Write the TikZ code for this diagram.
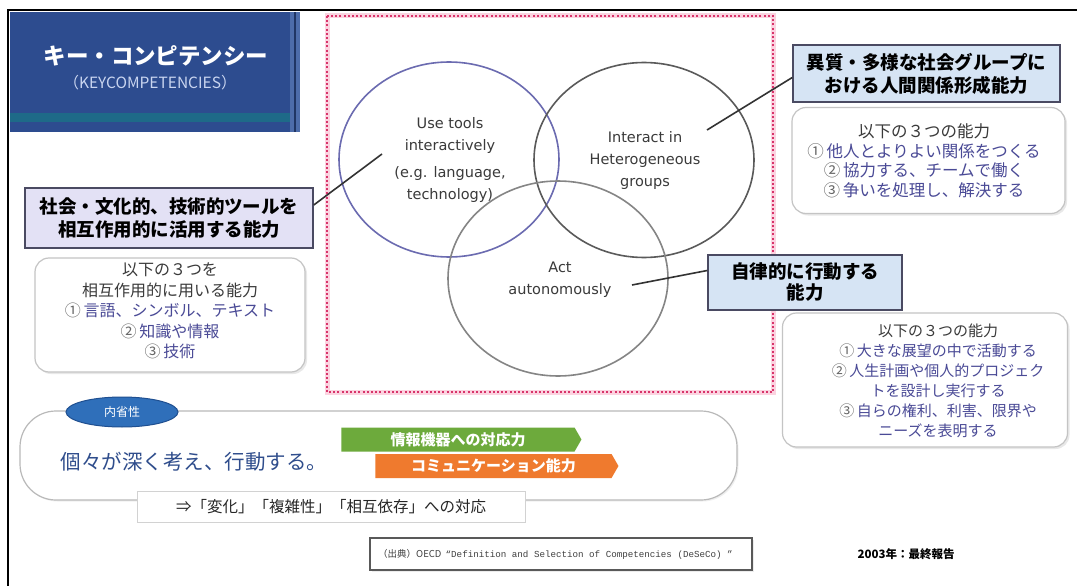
\documentclass[tikz,border=0pt]{standalone}
\usepackage{fontspec}
\setmainfont{Noto Sans CJK JP}
\newfontfamily\latinfont{DejaVu Sans}
\newfontfamily\monofont{Liberation Mono}
\usetikzlibrary{shapes.geometric,shapes.symbols,shadows}
\definecolor{titleblue}{HTML}{2D4C8F}
\definecolor{titleteal}{HTML}{1E6A88}
\definecolor{titleedge}{HTML}{4D6CAA}
\definecolor{titletxt}{HTML}{C9D5F0}
\definecolor{pinkdot}{HTML}{D8336A}
\definecolor{pinkglow}{HTML}{FBD3E0}
\definecolor{circA}{HTML}{6B6BB0}
\definecolor{circB}{HTML}{5A5A5A}
\definecolor{circC}{HTML}{858585}
\definecolor{circtxt}{HTML}{3A3A3A}
\definecolor{lblLfill}{HTML}{E3E1F5}
\definecolor{lblRfill}{HTML}{D6E4F4}
\definecolor{lbldraw}{HTML}{4A4A62}
\definecolor{infodraw}{HTML}{C4C4C4}
\definecolor{infotitle}{HTML}{3A3A3A}
\definecolor{itemc}{HTML}{4A4A96}
\definecolor{numc}{HTML}{666666}
\definecolor{bottxt}{HTML}{2F4D8C}
\definecolor{arrgreen}{HTML}{6DAA3C}
\definecolor{arrorange}{HTML}{EF7A2E}
\definecolor{ovalfill}{HTML}{2F6FBA}
\definecolor{ovaldraw}{HTML}{1F4F90}
\newcommand{\itm}[2]{{\color{numc}#1}\,{\color{itemc}#2}}
\begin{document}
\begin{tikzpicture}[x=1pt,y=-1pt,
  circ/.style={ellipse, minimum width=220pt, minimum height=195pt, line width=1.6pt},
  ctext/.style={font=\latinfont\fontsize{14.5}{22}\selectfont, text=circtxt, align=center, inner sep=0pt},
  lblbox/.style={draw=lbldraw, line width=1.5pt, inner sep=0pt, align=center,
     font=\fontsize{18.5}{23}\selectfont\bfseries, text=black},
  infobox/.style={draw=infodraw, line width=1.2pt, fill=white, rounded corners=14pt,
     drop shadow={opacity=0.18, shadow xshift=2pt, shadow yshift=-2pt}},
  infotext/.style={align=center, inner sep=0pt, text=infotitle},
  conn/.style={line width=1.6pt, draw=black!80},
  sig/.style={signal, signal to=east, signal pointer angle=120, inner sep=0pt,
     minimum height=24pt, text=white, font=\fontsize{15}{18}\selectfont\bfseries}
]
\useasboundingbox (0,0) rectangle (1077,586);
\fill[white] (0,0) rectangle (1077,586);

% title block
\fill[titleblue] (10,12) rectangle (290,132);
\fill[titleteal] (10,113) rectangle (290,122);
\fill[titleedge] (290,12) rectangle (300,132);
\draw[titleblue!70!black, line width=1.2pt] (295,12) -- (295,132);
\node[text=white, font=\fontsize{22.5}{24}\selectfont\bfseries, inner sep=0pt] (ttl) at (156,56) {キー・コンピテンシー};
\node[text=titletxt, font=\fontsize{15.5}{18}\selectfont, inner sep=0pt] (ttl2) at (150,83) {（KEYCOMPETENCIES）};

% frame lines
\draw[black, line width=2.2pt] (8,586) -- (8,10) -- (1077,10);

% pink dotted frame
\draw[pinkglow, line width=5pt] (327,16) rectangle (773,392);
\draw[pinkdot, line width=2.4pt, dash pattern=on 2pt off 2.2pt] (327,16) rectangle (773,392);

% circles
\node[circ, draw=circA] (cA) at (449,159.5) {};
\node[circ, draw=circB] (cB) at (644,160) {};
\node[circ, draw=circC] (cC) at (558,278.5) {};
\node[ctext] (tA1) at (450,135) {Use tools\\interactively};
\node[ctext] (tA2) at (450,184.5) {(e.g. language,\\technology)};
\node[ctext] (tB) at (645,160) {Interact in\\Heterogeneous\\groups};
\node[ctext] (tC) at (560,280) {Act\\autonomously};

% label boxes
\node[lblbox, fill=lblLfill, minimum width=288pt, minimum height=60pt] (lblL) at (169,218) {社会・文化的、技術的ツールを\\相互作用的に活用する能力};
\node[lblbox, fill=lblRfill, minimum width=267pt, minimum height=57pt] (lblT) at (926.5,73.5) {異質・多様な社会グループに\\おける人間関係形成能力};
\node[lblbox, fill=lblRfill, minimum width=194pt, minimum height=55pt, font=\fontsize{18.5}{21}\selectfont\bfseries] (lblA) at (805,282.5) {自律的に行動する\\能力};

% connectors
\coordinate (pA) at (382,154);
\coordinate (pB) at (707,130);
\coordinate (pC) at (632,285);
\draw[conn] ([yshift=13pt]lblL.east) -- (pA);
\draw[conn] (pB) -- ([yshift=-4pt]lblT.west);
\draw[conn] (pC) -- ([yshift=12pt]lblA.west);

% info boxes
\node[infobox, minimum width=270pt, minimum height=114pt] (infL) at (170,315) {};
\node[infotext, font=\fontsize{16}{20.5}\selectfont] (infLt) at (170,311) {以下の３つを\\相互作用的に用いる能力\\\itm{①}{言語、シンボル、テキスト}\\\itm{②}{知識や情報}\\\itm{③}{技術}};

\node[infobox, minimum width=273pt, minimum height=106pt] (infT) at (928.5,160.5) {};
\node[infotext, font=\fontsize{16.5}{19.5}\selectfont] (infTt) at (924,161) {以下の３つの能力\\\itm{①}{他人とよりよい関係をつくる}\\\itm{②}{協力する、チームで働く}\\\itm{③}{争いを処理し、解決する}};

\node[infobox, minimum width=285pt, minimum height=134pt] (infA) at (925,380) {};
\node[infotext, font=\fontsize{15}{20}\selectfont] (infAt) at (938,381) {以下の３つの能力\\\itm{①}{大きな展望の中で活動する}\\\itm{②}{人生計画や個人的プロジェク}\\{\color{itemc}トを設計し実行する}\\\itm{③}{自らの権利、利害、限界や}\\{\color{itemc}ニーズを表明する}};

% bottom block
\node[draw=gray!55, line width=1.2pt, rounded corners=36pt, minimum width=717pt, minimum height=89pt,
  drop shadow={opacity=0.12, shadow xshift=1.5pt, shadow yshift=-1.5pt}, fill=white] (bot) at (378.5,455.5) {};
\node[ellipse, fill=ovalfill, draw=ovaldraw, line width=1pt, minimum width=112pt, minimum height=30pt,
  text=white, font=\fontsize{12}{14}\selectfont] (oval) at (122,412) {内省性};
\node[text=bottxt, font=\fontsize{20.5}{22}\selectfont, inner sep=0pt] (deep) at (194,462) {個々が深く考え、行動する。};
\node[sig, fill=arrgreen, minimum width=240pt] (sigG) at (458,439.5) {情報機器への対応力};
\node[sig, fill=arrorange, minimum width=243pt] (sigO) at (493.5,466) {コミュニケーション能力};
\node[draw=gray!35, line width=1pt, fill=white, minimum width=388pt, minimum height=31pt, inner sep=0pt,
  font=\fontsize{15.5}{18}\selectfont, text=black!85] (resp) at (331,506.5) {⇒「変化」「複雑性」「相互依存」への対応};

% citation
\node[draw=black!65, line width=1.2pt, fill=white, minimum width=382pt, minimum height=32pt,
  drop shadow={opacity=0.15, shadow xshift=1.5pt, shadow yshift=-1.5pt}] (cit) at (561,554) {};
\node[anchor=west, inner sep=0pt, text=black!75, font=\fontsize{9.5}{12}\selectfont] (citt) at (378,554)
  {（出典）OECD\ \ {\monofont\fontsize{9.2}{12}\selectfont “Definition and Selection of Competencies (DeSeCo) ”}};
\node[inner sep=0pt, font=\fontsize{11.5}{13}\selectfont\bfseries] (year) at (906,554) {2003年：最終報告};
\end{tikzpicture}
\end{document}
